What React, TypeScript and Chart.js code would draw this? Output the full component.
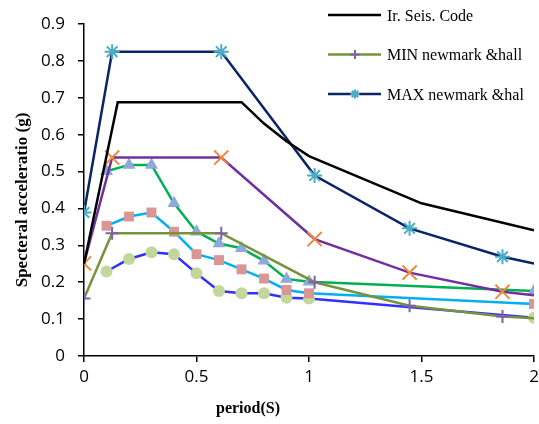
import React, { useEffect, useRef } from 'react';
import { Chart, registerables } from 'chart.js';
import { drawPoint } from 'chart.js/helpers';

Chart.register(...registerables);

// Iranian seismic code spectrum
const codeT = [0, 0.15, 0.7, 0.8, 0.9, 1.0, 1.5, 2.0];
const codeSa = [0.25, 0.688, 0.688, 0.63, 0.582, 0.542, 0.414, 0.341];

// Newmark & Hall spectra (MIN / MAX / intermediate)
const nhT = [0, 0.125, 0.61, 1.025, 1.447, 1.86, 2.0];
const minSa = [0.156, 0.333, 0.333, 0.2, 0.136, 0.107, 0.102];
const maxSa = [0.389, 0.825, 0.825, 0.489, 0.346, 0.269, 0.251];
const midSa = [0.251, 0.538, 0.538, 0.317, 0.226, 0.174, 0.165];

// Record spectra
const recT = [0.1, 0.2, 0.3, 0.4, 0.5, 0.6, 0.7, 0.8, 0.9, 1.0, 2.0];
const triSa = [0.501, 0.518, 0.518, 0.414, 0.337, 0.305, 0.292, 0.258, 0.209, 0.201, 0.176];
const sqSa = [0.353, 0.378, 0.389, 0.337, 0.276, 0.26, 0.235, 0.21, 0.179, 0.17, 0.141];
const circSa = [0.229, 0.263, 0.281, 0.276, 0.224, 0.176, 0.17, 0.17, 0.158, 0.156, 0.104];

const xTicks = [0, 0.5, 1, 1.5, 2];
const xTickLabels = ['0', '0.5', '1', '1.5', '2'];
const yTicks = [0, 0.1, 0.2, 0.3, 0.4, 0.5, 0.6, 0.7, 0.8, 0.9];
const yTickLabels = ['0', '0.1', '0.2', '0.3', '0.4', '0.5', '0.6', '0.7', '0.8', '0.9'];

const labels = ['Ir. Seis. Code', 'MIN newmark &hall', 'MAX newmark &hal', 'Series4', 'Series5', 'Series6', 'Series7'];
const xTitle = 'period(S)';
const yTitle = 'Specteral acceleratio (g)';

const pts = (xs: number[], ys: number[]) => xs.map((x, i) => ({ x, y: ys[i] }));
const hideAtEnd = (r: number) => (ctx: any) => (ctx.raw && ctx.raw.x >= 2 ? 0 : r);

const legendPlugin = {
  id: 'customLegend',
  afterDraw(chart: any) {
    const ctx = chart.ctx;
    [0, 1, 2].forEach((di, k) => {
      const ds = chart.data.datasets[di];
      const y = 15 + k * 39.5;
      ctx.save();
      ctx.strokeStyle = ds.borderColor;
      ctx.lineWidth = ds.borderWidth;
      ctx.beginPath();
      ctx.moveTo(328, y);
      ctx.lineTo(381, y);
      ctx.stroke();
      if (ds.legendMarker) {
        ctx.strokeStyle = ds.pointBorderColor;
        ctx.fillStyle = ds.pointBorderColor;
        ctx.lineWidth = 2;
        drawPoint(ctx, { pointStyle: ds.legendMarker, radius: 4.5, rotation: 0, borderWidth: 2 } as any, 355, y);
      }
      ctx.fillStyle = '#000';
      ctx.font = '16px "Liberation Serif"';
      ctx.textAlign = 'left';
      ctx.textBaseline = 'alphabetic';
      ctx.fillText(ds.label, 387, y + 5.5);
      ctx.restore();
    });
  },
};

const titlePlugin = {
  id: 'axisTitles',
  afterDraw(chart: any) {
    const ctx = chart.ctx;
    ctx.save();
    ctx.fillStyle = '#000';
    ctx.font = 'bold 16px "Liberation Serif"';
    ctx.textAlign = 'center';
    ctx.textBaseline = 'middle';
    ctx.fillText(xTitle, 248, 409);
    ctx.font = 'bold 17px "Liberation Serif"';
    ctx.translate(23, 200);
    ctx.rotate(-Math.PI / 2);
    ctx.fillText(yTitle, 0, 0);
    ctx.restore();
  },
};

export default function App() {
  const canvasRef = useRef<HTMLCanvasElement | null>(null);

  useEffect(() => {
    const canvas = canvasRef.current;
    if (!canvas) return;
    const tickFont = { family: '"Open Sans"', size: 17 };
    const chart = new Chart(canvas, {
      type: 'line',
      data: {
        datasets: [
          {
            label: labels[0],
            data: pts(codeT, codeSa),
            borderColor: '#000000',
            borderWidth: 2.5,
            pointRadius: 0,
            fill: false,
          },
          {
            label: labels[1],
            data: pts(nhT, minSa),
            borderColor: '#77933C',
            borderWidth: 2.5,
            pointStyle: 'cross',
            pointRadius: hideAtEnd(6.5),
            pointBorderColor: '#7F63A8',
            pointBackgroundColor: '#7F63A8',
            pointBorderWidth: 2,
            legendMarker: 'cross',
            fill: false,
          } as any,
          {
            label: labels[2],
            data: pts(nhT, maxSa),
            borderColor: '#0A2466',
            borderWidth: 2.5,
            pointStyle: 'star',
            pointRadius: hideAtEnd(7.5),
            pointBorderColor: '#4BACC6',
            pointBackgroundColor: '#4BACC6',
            pointBorderWidth: 2,
            legendMarker: 'star',
            fill: false,
          } as any,
          {
            label: labels[3],
            data: pts(nhT, midSa),
            borderColor: '#7030A0',
            borderWidth: 2.5,
            pointStyle: 'crossRot',
            pointRadius: hideAtEnd(10),
            pointBorderColor: '#EE8A3C',
            pointBackgroundColor: '#EE8A3C',
            pointBorderWidth: 2,
            fill: false,
          },
          {
            label: labels[4],
            data: pts(recT, triSa),
            borderColor: '#00B050',
            borderWidth: 2.5,
            pointStyle: 'triangle',
            pointRadius: 7.5,
            pointBorderWidth: 0,
            pointBackgroundColor: '#8EA9DB',
            pointBorderColor: '#8EA9DB',
            fill: false,
          },
          {
            label: labels[5],
            data: pts(recT, sqSa),
            borderColor: '#00B0F0',
            borderWidth: 2.5,
            pointStyle: 'rect',
            pointRadius: 7,
            pointBorderWidth: 0,
            pointBackgroundColor: '#D99694',
            pointBorderColor: '#D99694',
            fill: false,
          },
          {
            label: labels[6],
            data: pts(recT, circSa),
            borderColor: '#3030FF',
            borderWidth: 2.5,
            pointStyle: 'circle',
            pointRadius: 6,
            pointBorderWidth: 0,
            pointBackgroundColor: '#C3D69B',
            pointBorderColor: '#C3D69B',
            fill: false,
          },
        ],
      },
      options: {
        animation: false,
        responsive: false,
        devicePixelRatio: 1,
        layout: { autoPadding: false, padding: { left: 0, top: 24, right: 5, bottom: 0 } },
        elements: { line: { tension: 0 } },
        plugins: {
          legend: { display: false },
          tooltip: { enabled: false },
          title: { display: false },
        },
        scales: {
          x: {
            type: 'linear',
            min: 0,
            max: 2,
            afterBuildTicks: (s: any) => {
              s.ticks = xTicks.map((v) => ({ value: v }));
            },
            afterFit: (s: any) => {
              s.height = 68;
              s.paddingLeft = 0;
              s.paddingRight = 0;
            },
            ticks: {
              callback: (_v: any, i: number) => xTickLabels[i],
              font: tickFont,
              color: '#000',
              padding: 5,
              maxRotation: 0,
              autoSkip: false,
            },
            grid: { drawOnChartArea: false, drawTicks: true, tickLength: 6, color: '#000', lineWidth: 1.5 },
            border: { display: true, color: '#000', width: 1.5 },
          },
          y: {
            type: 'linear',
            min: 0,
            max: 0.9,
            afterBuildTicks: (s: any) => {
              s.ticks = yTicks.map((v) => ({ value: v }));
            },
            afterFit: (s: any) => {
              s.width = 84;
              s.paddingTop = 0;
              s.paddingBottom = 0;
            },
            ticks: {
              callback: (_v: any, i: number) => yTickLabels[i],
              font: tickFont,
              color: '#000',
              padding: 13,
              autoSkip: false,
            },
            grid: { drawOnChartArea: false, drawTicks: true, tickLength: 6, color: '#000', lineWidth: 1.5 },
            border: { display: true, color: '#000', width: 1.5 },
          },
        },
      } as any,
      plugins: [legendPlugin, titlePlugin],
    });
    return () => chart.destroy();
  }, []);

  return (
    <div style={{ position: 'fixed', left: 0, top: 0, width: 539, height: 424, background: '#fff' }}>
      <canvas ref={canvasRef} width={539} height={424} style={{ display: 'block' }} />
    </div>
  );
}
